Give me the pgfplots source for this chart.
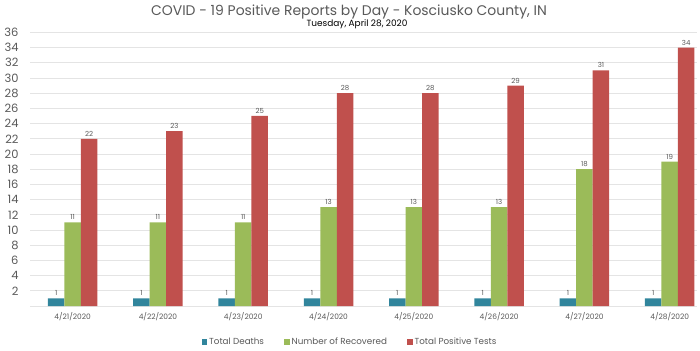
\documentclass[border=0pt]{standalone}
\usepackage{fontspec}
\setmainfont{Poppins}
\usepackage{pgfplots}
\pgfplotsset{compat=1.18}
\definecolor{cteal}{HTML}{31859C}
\definecolor{cgreen}{HTML}{9BBB59}
\definecolor{cred}{HTML}{C0504D}
\definecolor{ctext}{HTML}{595959}
\definecolor{cgrid}{HTML}{E4E4E4}
\begin{document}
\begin{tikzpicture}[x=1bp,y=1bp]
\path[use as bounding box] (0,0) rectangle (700,350);
\begin{axis}[
  at={(30bp,44bp)}, anchor=south west,
  scale only axis, width=667bp, height=273.6bp,
  ybar=0pt, bar width=16.5bp,
  xmin=-0.5, xmax=7.32, ymin=0, ymax=36,
  xtick={0,...,7},
  xticklabels={4/21/2020,4/22/2020,4/23/2020,4/24/2020,4/25/2020,4/26/2020,4/27/2020,4/28/2020},
  ytick={2,4,...,36},
  ymajorgrids, grid style={cgrid, line width=0.8bp},
  axis x line*=bottom, axis y line*=left,
  x axis line style={cgrid, line width=0.8bp, -},
  y axis line style={draw=none},
  major tick length=0pt,
  /pgf/number format/assume math mode=true,
  xticklabel style={font=\fontsize{7.5}{9}\selectfont, text=ctext, yshift=-3bp},
  yticklabel style={font=\fontsize{11.5}{13}\selectfont, text=ctext, xshift=-8bp},
  nodes near coords,
  every node near coord/.append style={font=\fontsize{7}{8}\selectfont, text=ctext, yshift=-1bp},
  legend columns=3,
  legend style={at={(0.4798,-0.132)}, anchor=center, draw=none, fill=none,
    font=\fontsize{8.8}{10}\selectfont, text=ctext,
    /tikz/every even column/.append style={column sep=18bp}},
  legend image code/.code={\fill[#1] (0bp,-2.8bp) rectangle (5.6bp,2.8bp);},
]
\addplot[fill=cteal, draw=none] coordinates {(0,1) (1,1) (2,1) (3,1) (4,1) (5,1) (6,1) (7,1)};
\addplot[fill=cgreen, draw=none] coordinates {(0,11) (1,11) (2,11) (3,13) (4,13) (5,13) (6,18) (7,19)};
\addplot[fill=cred, draw=none] coordinates {(0,22) (1,23) (2,25) (3,28) (4,28) (5,29) (6,31) (7,34)};
\legend{Total Deaths, Number of Recovered, Total Positive Tests}
\end{axis}
\node[anchor=base, font=\fontsize{14}{16}\selectfont, text=ctext] at (349,335) {COVID - 19 Positive Reports by Day - Kosciusko County, IN};
\node[anchor=base, font=\fontsize{9}{10}\selectfont, text=black] at (357,324) {Tuesday, April 28, 2020};
\end{tikzpicture}
\end{document}
